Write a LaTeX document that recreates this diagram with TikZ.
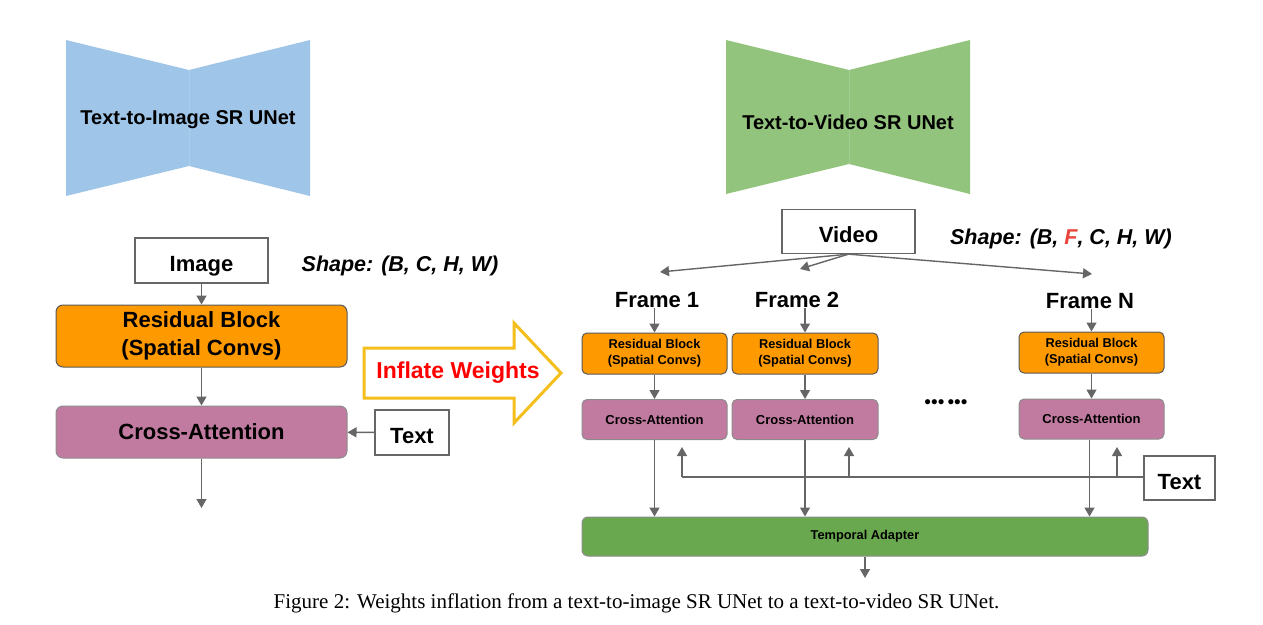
\documentclass[tikz,border=0pt]{standalone}
\usepackage{fontspec}
\setmainfont{Liberation Sans}
\newfontfamily\capfont{Liberation Serif}
\usetikzlibrary{arrows.meta,calc}
\newcommand\fsz[2]{\fontsize{#1}{#2}\selectfont}
\newcommand\lowered[1]{\raisebox{-7pt}{#1}}
\definecolor{bowblue}{HTML}{9FC5E8}
\definecolor{bowgreen}{HTML}{93C47D}
\definecolor{resorange}{HTML}{FF9900}
\definecolor{capurple}{HTML}{C27BA0}
\definecolor{tagreen}{HTML}{6AA84F}
\definecolor{linegray}{HTML}{666666}
\definecolor{inflyellow}{HTML}{F4BE1C}
\definecolor{fred}{HTML}{E8453C}
\tikzset{
  conn/.style={draw=linegray, line width=1.4pt, -{Triangle[width=10pt,length=9pt]}},
  plainline/.style={draw=linegray, line width=1.4pt},
  whitebox/.style={draw=linegray, line width=1.3pt, fill=white, inner sep=0pt, text depth=0pt, font=\bfseries\fsz{22}{26}},
  bigres/.style={draw=black!65, line width=1pt, fill=resorange, rounded corners=7pt, inner sep=0pt, align=center, minimum width=291pt, minimum height=62pt, font=\bfseries\fsz{22}{28}},
  bigca/.style={draw=black!45, line width=1pt, fill=capurple, rounded corners=7pt, inner sep=0pt, minimum width=291pt, minimum height=52pt, font=\bfseries\fsz{22}{26}},
  smallres/.style={draw=black!65, line width=1pt, fill=resorange, rounded corners=5pt, inner sep=0pt, align=center, minimum width=145pt, minimum height=41pt, font=\bfseries\fsz{12.8}{16}},
  smallca/.style={draw=black!45, line width=1pt, fill=capurple, rounded corners=5pt, inner sep=0pt, minimum width=145pt, minimum height=40pt, font=\bfseries\fsz{13}{15}},
  framelabel/.style={inner sep=0pt, font=\bfseries\fsz{22}{26}},
  shapelabel/.style={inner sep=0pt, font=\bfseries\itshape\fsz{21.5}{26}},
  bowlabel/.style={inner sep=0pt, font=\bfseries\fsz{20}{24}},
}
\begin{document}
\begin{tikzpicture}[x=1pt,y=-1pt]
\useasboundingbox (0,0) rectangle (1263,624);

% ---------- left bowtie ----------
\fill[bowblue] (66,40) -- (189,70) -- (310,40) -- (310,196) -- (189,166) -- (66,196) -- cycle;
\draw[bowblue!85!white, line width=0.6pt] (189,70) -- (189,166);
\node[bowlabel] (bowL) at (188,120) {Text-to-Image SR UNet};

% ---------- right bowtie ----------
\fill[bowgreen] (726,40) -- (849,70) -- (970,40) -- (970,194) -- (849,164) -- (726,194) -- cycle;
\draw[bowgreen!85!white, line width=0.6pt] (849,70) -- (849,164);
\node[bowlabel] (bowR) at (848,122) {Text-to-Video SR UNet};

% ---------- left branch ----------
\node[whitebox, minimum width=133pt, minimum height=45pt] (img) at (201.5,260.5) {\lowered{Image}};
\node[shapelabel] (shL) at (400,266) {Shape: (B, C, H, W)};
\node[bigres] (res) at (201.5,336) {Residual Block\\(Spatial Convs)};
\node[bigca] (ca) at (201.5,432) {Cross-Attention};
\node[whitebox, minimum width=74pt, minimum height=45pt] (txtL) at (412,432.5) {\lowered{Text}};
\coordinate (outL) at (201.5,508);
\draw[conn] (img) -- (res);
\draw[conn] (res) -- (ca);
\draw[conn] (txtL) -- (ca);
\draw[conn] (ca) -- (outL);

% ---------- inflate arrow ----------
\draw[draw=inflyellow, line width=3pt, fill=white, line join=miter]
  (364,348) -- (514,348) -- (514,323) -- (561,373) -- (514,423) -- (514,398) -- (364,398) -- cycle;
\node[inner sep=0pt, text=red, font=\bfseries\fsz{23}{26}] (infl) at (458,373) {Inflate Weights};

% ---------- right branch ----------
\node[whitebox, minimum width=133pt, minimum height=44pt] (video) at (848.5,231.5) {\lowered{Video}};
\node[shapelabel] (shR) at (1061,239) {Shape: (B, \textcolor{fred}{F}, C, H, W)};
\coordinate (a1) at (660,272);
\coordinate (a2) at (800,269);
\coordinate (aN) at (1092,274);
\draw[conn] (video.south) -- (a1);
\draw[conn] (video.south) -- (a2);
\draw[conn] (video.south) -- (aN);

\node[framelabel] (f1) at (657,300) {Frame 1};
\node[framelabel] (f2) at (797,300) {Frame 2};
\node[framelabel] (fN) at (1090,301) {Frame N};

\node[smallres] (r1) at (654.5,353.5) {Residual Block\\(Spatial Convs)};
\node[smallres, minimum width=146pt] (r2) at (805,353.5) {Residual Block\\(Spatial Convs)};
\node[smallres] (rN) at (1091.5,352.5) {Residual Block\\(Spatial Convs)};

\node[smallca] (c1) at (654.5,419.5) {Cross-Attention};
\node[smallca, minimum width=146pt] (c2) at (805,419.5) {Cross-Attention};
\node[smallca] (cN) at (1091.5,419) {Cross-Attention};

\node[inner sep=0pt, font=\fsz{19}{20}] (dots) at (946,404) {•••\,•••};

\draw[conn] (r1.north |- f1.south) -- (r1.north);
\draw[conn] (r2.north |- f2.south) -- (r2.north);
\draw[conn] (rN.north |- fN.south) -- (rN.north);
\draw[conn] (r1) -- (c1);
\draw[conn] (r2) -- (c2);
\draw[conn] (rN) -- (cN);

\node[whitebox, minimum width=71pt, minimum height=44pt] (txtR) at (1179.5,478) {\lowered{Text}};
\coordinate (tl) at (682,477);
\coordinate (u1) at (682,447);
\coordinate (b2) at (849,477);
\coordinate (u2) at (849,447);
\coordinate (bN) at (1117,477);
\coordinate (uN) at (1117,447);
\draw[plainline] (txtR.west |- tl) -- (tl);
\draw[conn] (tl) -- (u1);
\draw[conn] (b2) -- (u2);
\draw[conn] (bN) -- (uN);

\node[draw=black!45, line width=1pt, fill=tagreen, rounded corners=6pt, inner sep=0pt, minimum width=566pt, minimum height=39pt, font=\bfseries\fsz{12.8}{15}] (ta) at (865,536.5) {Temporal Adapter};
\draw[conn] (c1.south) -- (c1.south |- ta.north);
\draw[conn] (c2.south) -- (c2.south |- ta.north);
\draw[conn] ([xshift=-2pt]cN.south) -- ([xshift=-2pt]cN.south |- ta.north);
\coordinate (outR) at (865,578);
\draw[conn] (ta.south) -- (outR);

% ---------- caption ----------
\node[inner sep=0pt, font=\capfont\fsz{21}{24}] (cap) at (636.5,603) {Figure 2: Weights inflation from a text-to-image SR UNet to a text-to-video SR UNet.};
\end{tikzpicture}
\end{document}
